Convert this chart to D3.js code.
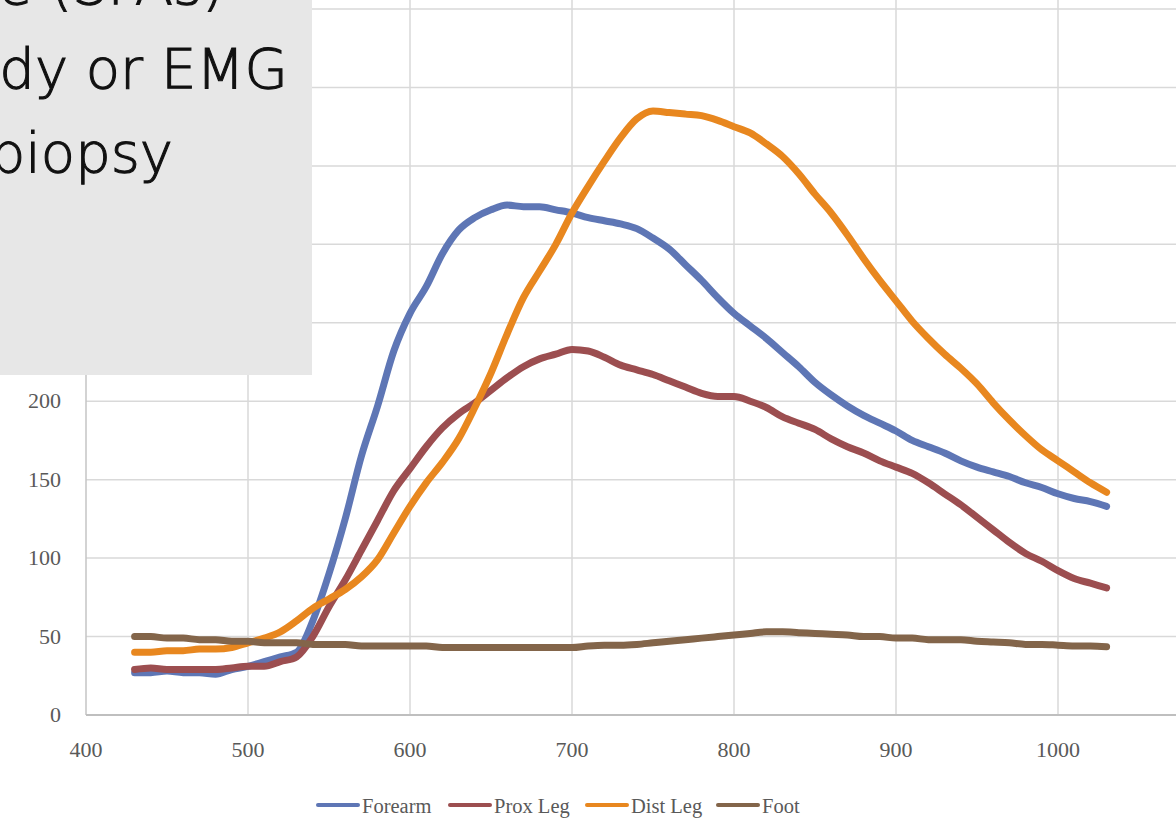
<!DOCTYPE html>
<html>
<head>
<meta charset="utf-8">
<script src="https://cdn.jsdelivr.net/npm/d3@7"></script>
<style>
  html, body { margin: 0; padding: 0; background: #fff; overflow: hidden; }
  svg { display: block; }
</style>
</head>
<body>
<svg width="1176" height="822"></svg>
<script>
// x positions of the samples
const xs = [430, 440, 450, 460, 470, 480, 490, 500, 510, 520, 530, 540, 550, 560, 570, 580, 590,
  600, 610, 620, 630, 640, 650, 660, 670, 680, 690, 700, 710, 720, 730, 740, 750, 760, 770, 780, 790,
  800, 810, 820, 830, 840, 850, 860, 870, 880, 890, 900, 910, 920, 930, 940, 950, 960, 970, 980, 990,
  1000, 1010, 1020, 1030];

const forearm = [27, 27, 28, 27, 27, 26, 29, 31, 34, 37, 40, 60, 90, 125, 165, 197, 232,
  256, 273, 294, 309, 317, 322, 325, 324, 324, 322, 320, 317, 315, 313, 310, 304, 297, 287, 277, 266,
  256, 248, 240, 231, 222, 212, 204, 197, 191, 186, 181, 175, 171, 167, 162, 158, 155, 152, 148, 145,
  141, 138, 136, 133];

const proxLeg = [29, 30, 29, 29, 29, 29, 30, 31, 31, 34, 37, 50, 69, 86, 105, 124, 143,
  157, 171, 183, 192, 199, 207, 215, 222, 227, 230, 233, 232, 228, 223, 220, 217, 213, 209, 205, 203,
  203, 200, 196, 190, 186, 182, 176, 171, 167, 162, 158, 154, 148, 141, 134, 126, 118, 110, 103, 98,
  92, 87, 84, 81];

const distLeg = [40, 40, 41, 41, 42, 42, 43, 46, 49, 53, 60, 68, 74, 80, 88, 99, 116,
  133, 148, 161, 176, 196, 218, 243, 266, 283, 300, 320, 337, 353, 368, 380, 385, 384, 383, 382, 379,
  375, 371, 364, 356, 345, 332, 320, 306, 291, 277, 264, 251, 240, 230, 221, 211, 199, 188, 178, 169,
  162, 155, 148, 142];

const foot = [50, 50, 49, 49, 48, 48, 47, 47, 46, 46, 46, 45, 45, 45, 44, 44, 44,
  44, 44, 43, 43, 43, 43, 43, 43, 43, 43, 43, 44, 44.5, 44.5, 45, 46, 47, 48, 49, 50,
  51, 52, 53, 53, 52.5, 52, 51.5, 51, 50, 50, 49, 49, 48, 48, 48, 47, 46.5, 46, 45, 45,
  44.5, 44, 44, 43.5];

const seriesNames = ["Forearm", "Prox Leg", "Dist Leg", "Foot"];
const seriesColors = ["#5E76B5", "#9C4E50", "#E8871F", "#83654A"];
const seriesValues = [forearm, proxLeg, distLeg, foot];

const xTicks = [400, 500, 600, 700, 800, 900, 1000, 1100];
const yTicks = [0, 50, 100, 150, 200, 250, 300, 350, 400, 450];
// labels above 200 sit under the grey box and are not shown
const yLabels = [0, 50, 100, 150, 200];

const boxLines = ["e (SFAs)", "dy or EMG", "biopsy"];

const svg = d3.select("svg");
const width = +svg.attr("width");
const height = +svg.attr("height");

const x = d3.scaleLinear().domain([400, 1100]).range([86, 1220]);
const y = d3.scaleLinear().domain([0, 450]).range([715, 9]);

const tickFont = "'Liberation Serif', 'DejaVu Serif', serif";

// gridlines
svg.append("g")
  .selectAll("line")
  .data(yTicks.filter(d => d > 0))
  .enter().append("line")
  .attr("x1", x(400)).attr("x2", width)
  .attr("y1", d => y(d)).attr("y2", d => y(d))
  .attr("stroke", "#d9d9d9").attr("stroke-width", 1.5);

svg.append("g")
  .selectAll("line")
  .data(xTicks.filter(d => d > 400))
  .enter().append("line")
  .attr("x1", d => x(d)).attr("x2", d => x(d))
  .attr("y1", 0).attr("y2", y(0))
  .attr("stroke", "#d9d9d9").attr("stroke-width", 1.5);

// axis lines
svg.append("line")
  .attr("x1", x(400)).attr("x2", x(400))
  .attr("y1", 0).attr("y2", y(0))
  .attr("stroke", "#c4c4c4").attr("stroke-width", 1.5);
svg.append("line")
  .attr("x1", x(400)).attr("x2", width)
  .attr("y1", y(0)).attr("y2", y(0))
  .attr("stroke", "#bfbfbf").attr("stroke-width", 2);

// tick labels
svg.append("g")
  .selectAll("text")
  .data(yLabels)
  .enter().append("text")
  .attr("x", 61)
  .attr("y", d => y(d) + 7)
  .attr("text-anchor", "end")
  .attr("font-family", tickFont)
  .attr("font-size", 22)
  .attr("fill", "#595959")
  .text(d => d);

svg.append("g")
  .selectAll("text")
  .data(xTicks.filter(d => x(d) < width))
  .enter().append("text")
  .attr("x", d => x(d))
  .attr("y", 757)
  .attr("text-anchor", "middle")
  .attr("font-family", tickFont)
  .attr("font-size", 22)
  .attr("fill", "#595959")
  .text(d => d);

// series lines
const line = d3.line()
  .x((d, i) => x(xs[i]))
  .y(d => y(d))
  .curve(d3.curveMonotoneX);

svg.append("g")
  .selectAll("path")
  .data(seriesValues)
  .enter().append("path")
  .attr("d", d => line(d))
  .attr("fill", "none")
  .attr("stroke", (d, i) => seriesColors[i])
  .attr("stroke-width", 7)
  .attr("stroke-linejoin", "round")
  .attr("stroke-linecap", "round");

// legend
const legendX = [318, 450, 587, 718];
const legend = svg.append("g")
  .selectAll("g")
  .data(seriesNames)
  .enter().append("g")
  .attr("transform", (d, i) => `translate(${legendX[i]},805)`);

legend.append("line")
  .attr("x1", 0).attr("x2", 40)
  .attr("stroke", (d, i) => seriesColors[i])
  .attr("stroke-width", 4)
  .attr("stroke-linecap", "round");

legend.append("text")
  .attr("x", 44)
  .attr("y", 8)
  .attr("font-family", tickFont)
  .attr("font-size", 20.5)
  .attr("fill", "#595959")
  .text(d => d);

// grey text box overlay, top left
svg.append("rect")
  .attr("x", 0).attr("y", 0)
  .attr("width", 312).attr("height", 375)
  .attr("fill", "#e7e7e7");

const boxEnds = [224, 288, 173];
svg.append("g")
  .selectAll("text")
  .data(boxLines)
  .enter().append("text")
  .attr("x", (d, i) => boxEnds[i])
  .attr("y", (d, i) => 4 + i * 84)
  .attr("text-anchor", "end")
  .attr("font-family", "'DejaVu Sans', sans-serif")
  .attr("font-weight", 300)
  .attr("font-size", 56)
  .attr("fill", "#111")
  .attr("stroke", "#111")
  .attr("stroke-width", 1.1)
  .text(d => d);
</script>
</body>
</html>
